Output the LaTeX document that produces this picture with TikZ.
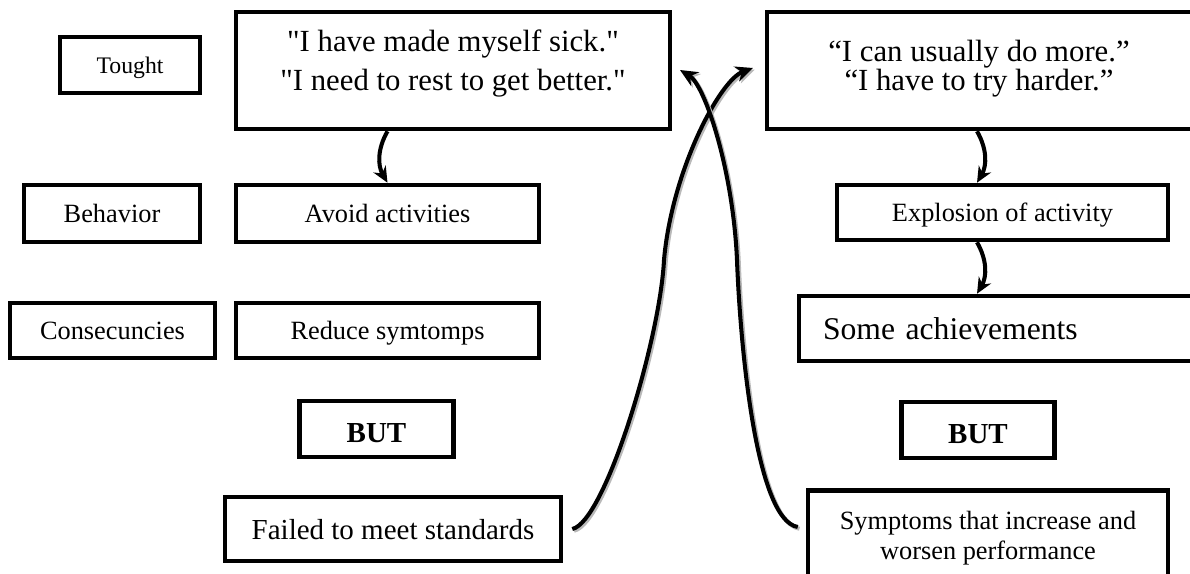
\documentclass[tikz,border=0pt]{standalone}
\usepackage{fontspec}
\setmainfont{Liberation Serif}[Ligatures=TeXOff]
\usetikzlibrary{arrows.meta, positioning, calc}

\newcommand{\tightquote}{\fontsize{17.5}{16.5}\selectfont\lineskiplimit=-5pt\relax}

\begin{document}
\begin{tikzpicture}[
    x=0.02cm, y=-0.02cm,
    box/.style={rectangle, draw, line width=2.6pt, inner sep=0pt, text depth=0pt, align=center, font=\fontsize{15}{18}\selectfont},
    quotetext/.style={inner sep=0pt, align=center},
    butbox/.style={box, minimum width=3.07cm, minimum height=1.12cm, text height=15pt, font=\fontsize{16.5}{20}\selectfont\bfseries},
    smallarrow/.style={line width=2.3pt, -{Stealth[length=9pt, width=8pt]}},
    bigarrow/.style={line width=2.3pt, -{Stealth[length=10pt, width=9pt]}, preaction={draw=gray!55, line width=2.3pt, transform canvas={shift={(1pt,-1pt)}}}}
]
    \useasboundingbox (0,0) rectangle (1190,574);
    \clip (0,0) rectangle (1190,574);

    % Row labels
    \node[box, minimum width=2.8cm, minimum height=1.12cm, font=\fontsize{13.5}{16}\selectfont] (tought) at (130,65) {Tought};
    \node[box, minimum width=3.52cm, minimum height=1.14cm] (behavior) at (112,213.5) {Behavior};
    \node[box, minimum width=4.1cm, minimum height=1.1cm] (consec) at (112.5,330.5) {Consecuncies};

    % Left column
    \node[box, minimum width=8.68cm, minimum height=2.34cm] (sick) at (453,70.5) {};
    \node[quotetext, font=\fontsize{17.5}{22}\selectfont, below=0.4cm of sick.north] (sicktext) {"I have made myself sick."\\"I need to rest to get better."};
    \node[box, minimum width=6.06cm, minimum height=1.14cm] (avoid) at (387.5,213.5) {Avoid activities};
    \node[box, minimum width=6.06cm, minimum height=1.1cm] (reduce) at (387.5,330.5) {Reduce symtomps};
    \node[butbox] (butleft) at (376.5,429) {BUT};
    \node[box, minimum width=6.72cm, minimum height=1.28cm, font=\fontsize{16.5}{20}\selectfont] (failed) at (393,529) {Failed to meet standards};

    % Right column
    \node[box, minimum width=9.66cm, minimum height=2.34cm] (tryhard) at (1008.5,70.5) {};
    \node[quotetext, font=\tightquote, below=0.6cm of tryhard.north, xshift=-0.59cm] (tryhardtext) {“I can usually do more.”\\“I have to try harder.”};
    \node[box, minimum width=6.62cm, minimum height=1.1cm] (explode) at (1002.5,212.5) {Explosion of activity};
    \node[box, minimum height=1.3cm, text width=8.06cm, inner xsep=0.48cm, align=left, font=\fontsize{18}{22}\selectfont] (achieve) at (1024.5,328.5) {Some achievements};
    \node[butbox] (butright) at (978,430) {BUT};
    \node[box, minimum width=7.2cm, minimum height=1.78cm, font=\fontsize{15}{17}\selectfont] (symptoms) at (988,535) {Symptoms that increase and\\worsen performance};

    % Short arrows
    \coordinate (rx) at (977,0);
    \draw[smallarrow] (sick.south -| avoid.north) to[bend right=30] (avoid.north);
    \draw[smallarrow] (tryhard.south -| rx) to[bend left=30] (explode.north -| rx);
    \draw[smallarrow] (explode.south -| rx) to[bend left=30] (achieve.north -| rx);

    % Crossing arrows
    \coordinate (tipA) at (753,68);
    \coordinate (tipB) at (680,70);
    \draw[bigarrow] ($(failed.east)+(9,0)$) .. controls (605,522) and (660,340) .. (664,260)
        .. controls (672,170) and (720,80) .. (tipA);
    \draw[bigarrow] ($(symptoms.west)+(-8,-8)$) .. controls (755,520) and (740,340) .. (737,260)
        .. controls (733,170) and (705,85) .. (tipB);
\end{tikzpicture}
\end{document}
